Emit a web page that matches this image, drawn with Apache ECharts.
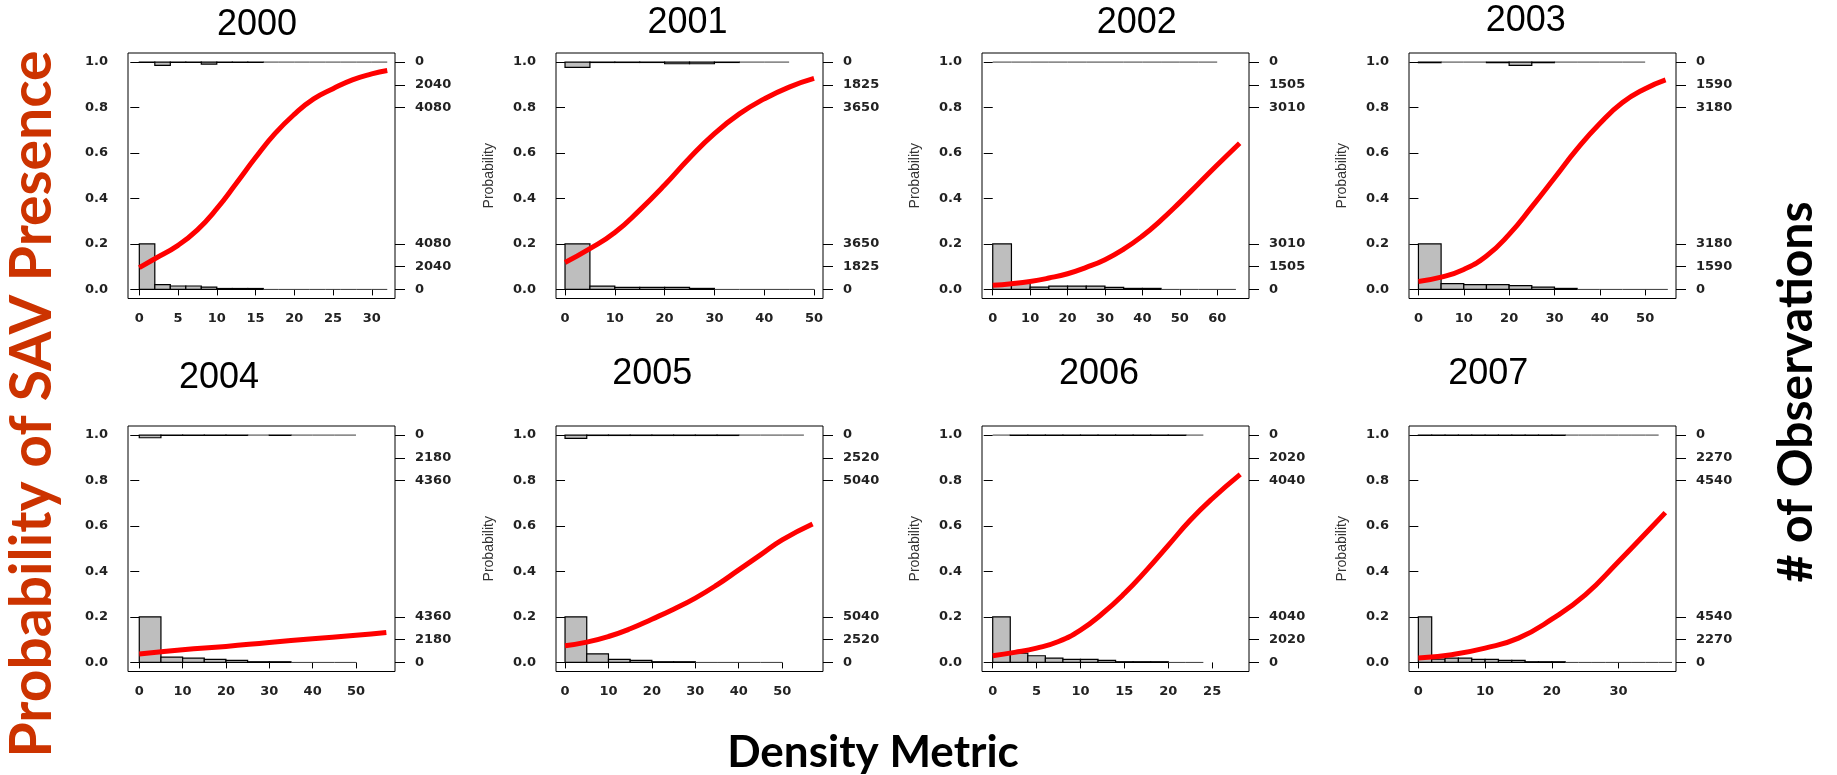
<!DOCTYPE html>
<html><head><meta charset="utf-8">
<script src="https://cdn.jsdelivr.net/npm/echarts@6/dist/echarts.min.js"></script>
<style>html,body{margin:0;padding:0;background:#fff}#c{width:1837px;height:775px}</style>
</head><body><div id="c"></div><script>
// ---------------- data ----------------
const years = ['2000','2001','2002','2003','2004','2005','2006','2007'];

// x-axis tick labels per panel
const xTicks2000 = [0,5,10,15,20,25,30];
const xTicks2001 = [0,10,20,30,40,50];
const xTicks2002 = [0,10,20,30,40,50,60];
const xTicks2003 = [0,10,20,30,40,50];
const xTicks2004 = [0,10,20,30,40,50];
const xTicks2005 = [0,10,20,30,40,50];
const xTicks2006 = [0,5,10,15,20,25];
const xTicks2007 = [0,10,20,30];

// left probability ticks
const probTicks = [0,0.2,0.4,0.6,0.8,1.0];

// right-axis count labels [0, half, max] (max count corresponds to 0.2)
const countLabels2000 = [0,2040,4080];
const countLabels2001 = [0,1825,3650];
const countLabels2002 = [0,1505,3010];
const countLabels2003 = [0,1590,3180];
const countLabels2004 = [0,2180,4360];
const countLabels2005 = [0,2520,5040];
const countLabels2006 = [0,2020,4040];
const countLabels2007 = [0,2270,4540];

// histogram bin widths
const binWidth = [2,5,5,5,5,5,2,2];

// absence (bottom) histogram counts, bins from 0
const absent2000 = [4080,428,306,306,204,82,82,82,0,0,0,0,0,0,0,0];
const absent2001 = [3650,268,161,161,161,80,0,0,0,0];
const absent2002 = [3010,423,156,223,223,223,134,67,67,0,0,0,0];
const absent2003 = [3180,400,330,330,260,165,70,0,0,0,0];
const absent2004 = [4360,505,410,284,190,63,63,0,0,0];
const absent2005 = [5040,950,330,220,74,74,0,0,0,0];
const absent2006 = [4040,830,590,385,265,265,177,60,60,60,0,0];
const absent2007 = [4540,330,430,430,300,300,200,200,66,66,66,0,0,0,0,0,0,0,0];

// presence (top) histogram counts, bins from 0
const present2000 = [30,300,30,30,180,30,30,30,0,0,0,0,0,0,0,0];
const present2001 = [430,30,30,30,135,135,30,0,0];
const present2002 = [0,0,0,0,0,0,0,0,0,0,0,0];
const present2003 = [40,0,0,40,236,40,0,0,0,0];
const present2004 = [253,30,30,30,30,0,30,0,0,0];
const present2005 = [365,40,40,40,40,40,40,40,0,0,0];
const present2006 = [0,30,30,30,30,30,30,30,30,30,30,0];
const present2007 = [30,30,30,30,30,30,30,30,30,30,30,0,0,0,0,0,0,0];

// fitted probability curves [density, probability]
const curve2000 = [[0,0.096],[2,0.135],[5,0.194],[7.5,0.262],[10,0.355],[12.5,0.466],[15,0.58],[17.5,0.685],[20,0.77],[22.5,0.838],[25,0.883],[27.5,0.922],[30,0.948],[32,0.963]];
const curve2001 = [[0,0.118],[5,0.179],[10,0.25],[15,0.349],[20,0.459],[25,0.578],[30,0.685],[35,0.772],[40,0.838],[45,0.89],[50,0.928]];
const curve2002 = [[0,0.018],[5,0.025],[10,0.035],[15,0.05],[20,0.069],[25,0.097],[30,0.131],[35,0.177],[40,0.235],[45,0.305],[50,0.383],[55,0.465],[60,0.547],[66,0.643]];
const curve2003 = [[0,0.035],[5,0.054],[10,0.088],[15,0.147],[20,0.242],[25,0.363],[30,0.49],[35,0.618],[40,0.73],[45,0.822],[50,0.883],[54.5,0.922]];
const curve2004 = [[0,0.037],[10,0.056],[20,0.07],[30,0.088],[40,0.104],[50,0.119],[57,0.132]];
const curve2005 = [[0,0.073],[5,0.089],[10,0.114],[15,0.148],[20,0.19],[25,0.234],[30,0.283],[35,0.341],[40,0.407],[45,0.473],[50,0.539],[57,0.609]];
const curve2006 = [[0,0.029],[2.5,0.044],[5,0.063],[7.5,0.092],[10,0.142],[12.5,0.215],[15,0.303],[17.5,0.405],[20,0.515],[22.5,0.625],[25,0.72],[28.2,0.827]];
const curve2007 = [[0,0.019],[5,0.034],[10,0.063],[15,0.107],[20,0.19],[25,0.297],[30,0.444],[35,0.597],[37,0.659]];

// ---------------- layout ----------------
const xTicks = [xTicks2000,xTicks2001,xTicks2002,xTicks2003,xTicks2004,xTicks2005,xTicks2006,xTicks2007];
const countLabels = [countLabels2000,countLabels2001,countLabels2002,countLabels2003,countLabels2004,countLabels2005,countLabels2006,countLabels2007];
const absent = [absent2000,absent2001,absent2002,absent2003,absent2004,absent2005,absent2006,absent2007];
const present = [present2000,present2001,present2002,present2003,present2004,present2005,present2006,present2007];
const curves = [curve2000,curve2001,curve2002,curve2003,curve2004,curve2005,curve2006,curve2007];
const xRange = [[-1.46,33.0],[-1.81,51.8],[-2.87,68.5],[-2.08,56.8],[-2.6,59.0],[-2.08,59.4],[-1.22,29.2],[-1.4,38.6]];
const colLeft = [128,556,982,1409];
const colWidth = 267;
const rowTop = [53,426];
const rowHeight = 245.5;
const titlePos = [[257,25],[687.5,23],[1136.7,23],[1525.7,21],[219,378],[652.3,374],[1099,374],[1488.3,374]];

const tickFont = {fontFamily:'DejaVu Sans', fontSize:13, fontWeight:'bold', color:'#222'};

const grid = [], xAxis = [], yAxis = [], series = [], graphic = [];

function histRender(maxCount, top){
  return function(params, api){
    const x0 = api.value(0), x1 = api.value(1), c = api.value(2);
    const h = c / maxCount * 0.2;
    const base = top ? 1 : 0;
    const end = top ? 1 - h : h;
    const p0 = api.coord([x0, base]);
    const p1 = api.coord([x1, end]);
    if (c === 0) {
      return {type:'line', shape:{x1:p0[0], y1:p0[1], x2:p1[0], y2:p0[1]}, style:{stroke:'#3a3a3a', lineWidth:1}};
    }
    return {type:'rect', shape:{x:p0[0], y:Math.min(p0[1],p1[1]), width:p1[0]-p0[0], height:Math.abs(p1[1]-p0[1])},
            style:{fill:'#bebebe', stroke:'#000', lineWidth:1.2}};
  };
}

for (let i = 0; i < 8; i++) {
  const r = Math.floor(i/4), c = i % 4;
  grid.push({left:colLeft[c], top:rowTop[r], width:colWidth, height:rowHeight,
             show:true, borderColor:'#000', borderWidth:1, backgroundColor:'transparent'});
  xAxis.push({type:'value', gridIndex:i, min:xRange[i][0], max:xRange[i][1],
    axisLine:{show:false}, splitLine:{show:false},
    axisTick:{show:true, length:6, customValues:xTicks[i], lineStyle:{color:'#000'}},
    axisLabel:{show:true, margin:14, customValues:xTicks[i], ...tickFont}});
  yAxis.push({type:'value', gridIndex:i, position:'left', min:-0.04, max:1.04,
    name: c === 0 ? '' : 'Probability', nameLocation:'middle', nameGap:60,
    nameTextStyle:{fontFamily:'Liberation Sans', fontSize:14, color:'#333'},
    axisLine:{show:false}, splitLine:{show:false},
    axisTick:{show:true, length:9, customValues:probTicks, lineStyle:{color:'#000'}},
    axisLabel:{show:true, margin:20, customValues:probTicks, formatter:v=>v.toFixed(1), ...tickFont}});
  const cl = countLabels[i];
  yAxis.push({type:'value', gridIndex:i, position:'right', min:-0.04, max:1.04,
    axisLine:{show:false}, splitLine:{show:false},
    axisTick:{show:true, length:10, customValues:[0,0.1,0.2,0.8,0.9,1.0], lineStyle:{color:'#000'}},
    axisLabel:{show:true, margin:20, align:'left', customValues:[0,0.1,0.2,0.8,0.9,1.0],
      formatter:v=>{ const k = v < 0.5 ? Math.round(v*10) : Math.round((1-v)*10); return String(cl[k]); }, ...tickFont}});

  const w = binWidth[i];
  const maxCount = cl[2];
  series.push({type:'custom', xAxisIndex:i, yAxisIndex:2*i, renderItem:histRender(maxCount,false),
    encode:{x:[0,1], y:2}, data: absent[i].map((n,k)=>[k*w,(k+1)*w,n]), z:2, silent:true});
  series.push({type:'custom', xAxisIndex:i, yAxisIndex:2*i, renderItem:histRender(maxCount,true),
    encode:{x:[0,1], y:2}, data: present[i].map((n,k)=>[k*w,(k+1)*w,n]), z:2, silent:true});
  series.push({type:'line', xAxisIndex:i, yAxisIndex:2*i, data:curves[i], smooth:0.5, symbol:'none',
    lineStyle:{color:'#ff0000', width:5}, z:5, silent:true, animation:false});

  graphic.push({type:'text', x:titlePos[i][0], y:titlePos[i][1],
    style:{text:years[i], fontFamily:'Liberation Sans', fontSize:36, fill:'#000', textAlign:'center', textVerticalAlign:'middle'}});
}

graphic.push({type:'text', x:33, y:404, rotation:Math.PI/2,
  style:{text:'Probability of SAV Presence', fontFamily:'Lato', fontWeight:'bold', fontSize:57, fill:'#cc3300', textAlign:'center', textVerticalAlign:'middle'}});
graphic.push({type:'text', x:1797, y:392, rotation:Math.PI/2,
  style:{text:'# of Observations', fontFamily:'Lato', fontWeight:'bold', fontSize:48, fill:'#000', textAlign:'center', textVerticalAlign:'middle'}});
graphic.push({type:'text', x:873, y:753,
  style:{text:'Density Metric', fontFamily:'Lato', fontWeight:'bold', fontSize:44, fill:'#000', textAlign:'center', textVerticalAlign:'middle'}});

const chart = echarts.init(document.getElementById('c'), null, {renderer:'canvas'});
chart.setOption({animation:false, backgroundColor:'#fff', grid, xAxis, yAxis, series, graphic});
</script></body></html>
